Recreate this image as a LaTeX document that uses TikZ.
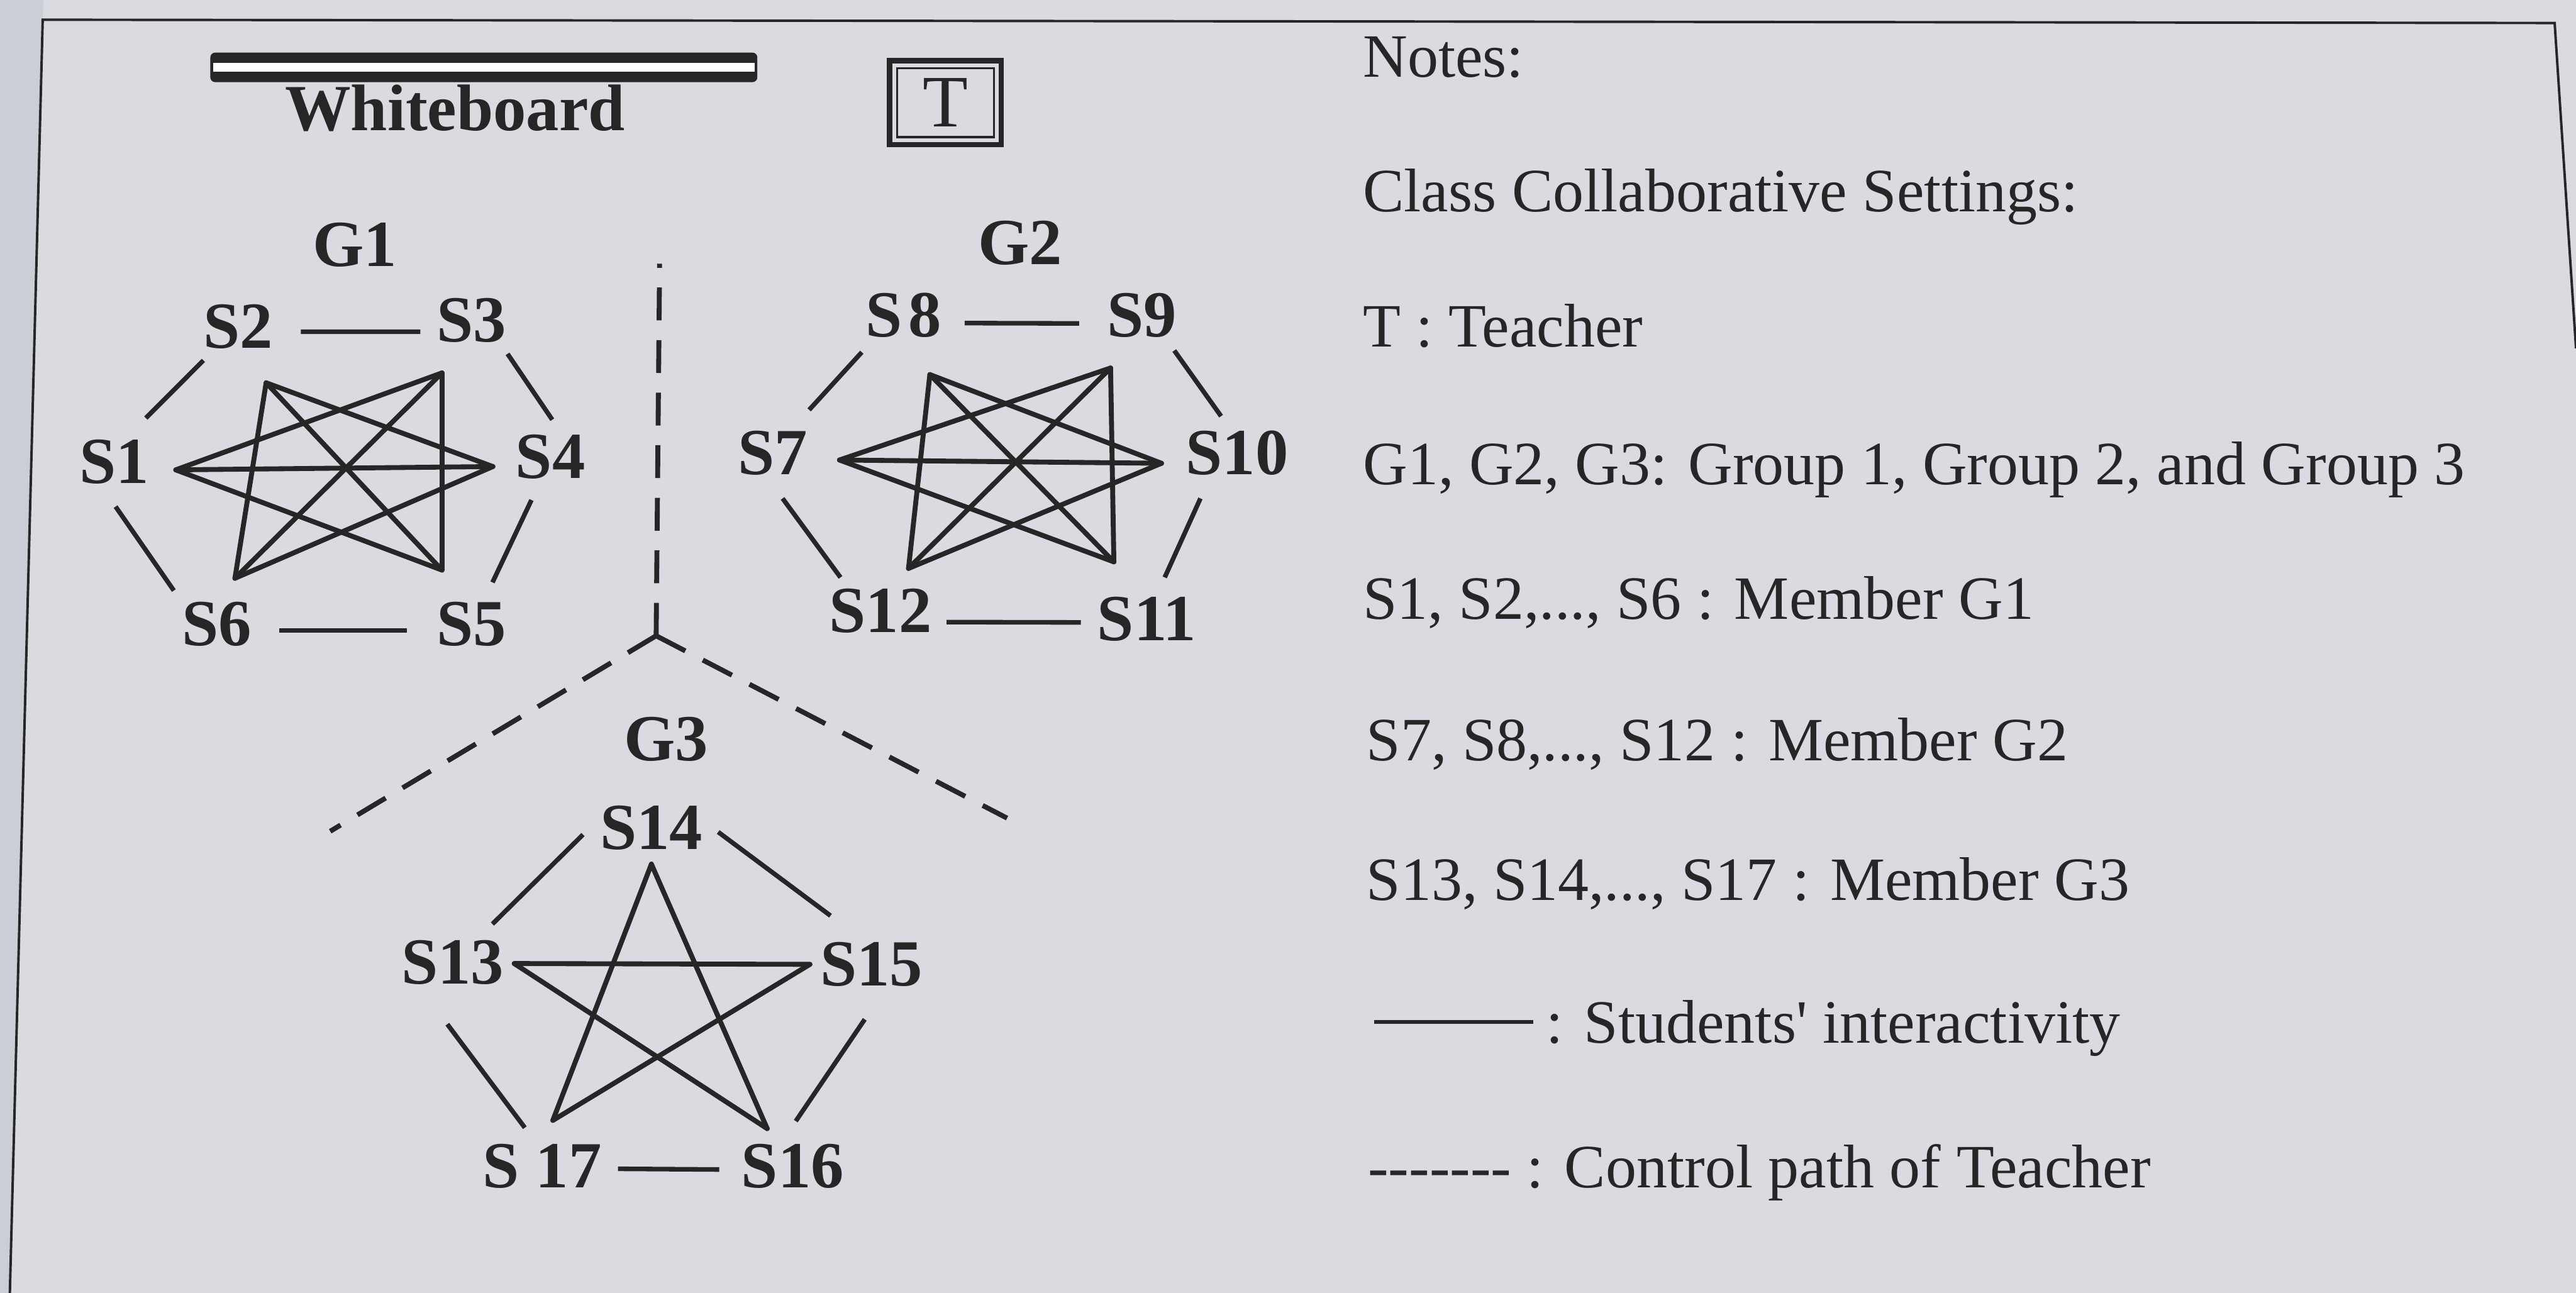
\documentclass[tikz,border=0pt]{standalone}
\usepackage{fontspec}
\setmainfont{Liberation Serif}[Ligatures=TeXOff]
\newcommand\legendfont{\fontsize{10.67}{12}\selectfont}
\newcommand\seatfont{\fontsize{11.4}{13}\selectfont\bfseries}
\newcommand\teacherfont{\fontsize{12.8}{14}\selectfont}
\definecolor{paper}{HTML}{DADBE0}
\definecolor{margin}{HTML}{CBCED6}
\definecolor{ink}{HTML}{262626}
\begin{document}
\begin{tikzpicture}[x=0.1mm,y=-0.1mm,
  seat/.style={font=\seatfont, text=ink, inner sep=0.7mm, outer sep=0pt, anchor=base},
  grp/.style={font=\seatfont, text=ink, inner sep=0pt, anchor=base},
  link/.style={draw=ink, line width=0.28mm},
  cross/.style={draw=ink, line width=0.3mm, line cap=round},
  ctrl/.style={draw=ink, line width=0.3mm, dash pattern=on 2mm off 1.2mm},
  note/.style={font=\legendfont, text=ink, inner sep=0pt, anchor=base west},
  board/.style={fill=ink, minimum width=33.3mm, minimum height=1.8mm, inner sep=0pt, rounded corners=0.3mm},
  tbox/.style={draw=ink, line width=0.32mm, minimum width=6.8mm, minimum height=5.1mm, inner sep=0pt, outer sep=0pt, font=\teacherfont, text=ink}
]
% sheet and its border
\fill[paper] (0,0) rectangle (1568,787);
\useasboundingbox (0,0) rectangle (1568,787);
\fill[margin] (0,0) -- (26.5,0) -- (26,12) -- (6,787) -- (0,787) -- cycle;
\draw[ink, line width=0.15mm] (6,787) -- (26,12) -- (1555,14) -- (1568,212);

% whiteboard and teacher
\node[board] (wb) at (294.5,41) {};
\fill[white] ([xshift=0.25mm,yshift=-0.7mm]wb.north west) rectangle ([xshift=-0.25mm,yshift=0.7mm]wb.south east);
\node[grp] (wblabel) at (277,79.5) {Whiteboard};
\node[tbox] (T) at (575.5,62.5) {T};
\draw[ink, line width=0.13mm] ([xshift=0.45mm,yshift=-0.45mm]T.north west) rectangle ([xshift=-0.45mm,yshift=0.45mm]T.south east);

% group labels
\node[grp] (G1) at (216,162) {G1};
\node[grp] (G2) at (621,161) {G2};
\node[grp] (G3) at (405.5,463) {G3};

% students of group 1
\node[seat] (S1) at (69.5,294) {S1};
\node[seat] (S2) at (145,212) {S2};
\node[seat] (S3) at (287,208) {S3};
\node[seat] (S4) at (335,291) {S4};
\node[seat] (S5) at (287,393) {S5};
\node[seat] (S6) at (132,393) {S6};
% students of group 2
\node[seat] (S7) at (470.5,289) {S7};
\node[seat] (S8) at (550,205) {S\kern0.4mm 8};
\node[seat] (S9) at (695,205) {S9};
\node[seat] (S10) at (753,289) {S10};
\node[seat] (S11) at (698,390) {S11};
\node[seat] (S12) at (536,385) {S12};
% students of group 3
\node[seat] (S13) at (275.5,599) {S13};
\node[seat] (S14) at (396.5,517) {S14};
\node[seat] (S15) at (530.5,600) {S15};
\node[seat] (S16) at (482.5,723) {S16};
\node[seat] (S17) at (330,723) {S 17};

% inner meeting points of each student
\coordinate (c1) at (107,286);  \coordinate (c2) at (162,233);
\coordinate (c3) at (269,227);  \coordinate (c4) at (300,284);
\coordinate (c5) at (269,347);  \coordinate (c6) at (143,352);
\coordinate (c7) at (511,280);  \coordinate (c8) at (566,228);
\coordinate (c9) at (676,224);  \coordinate (c10) at (707,282);
\coordinate (c11) at (678,342); \coordinate (c12) at (553,346);
\coordinate (c14) at (396.5,526); \coordinate (c13) at (313,586.5);
\coordinate (c15) at (493,587);   \coordinate (c17) at (336.5,682);
\coordinate (c16) at (467,687);

% hexagon rims
\draw[link, shorten <=0.85mm] (S1.57) -- (S2.224);
\draw[link, shorten <=1mm, shorten >=0.3mm] (S2.-6) -- (S3.194);
\draw[link, shorten >=0.24mm] (S3.-43) -- (S4.83.5);
\draw[link, shorten <=0.85mm] (S1.-101.6) -- (S6.142.4);
\draw[link, shorten <=0.66mm, shorten >=0.55mm] (S4.-113.7) -- (S5.63);
\draw[link, shorten <=1mm, shorten >=1.1mm] (S6.-8) -- (S5.188);

\draw[link, shorten <=0.7mm, shorten >=1mm] (S8.-9.5) -- (S9.190);
\draw[link, shorten <=0.27mm, shorten >=0.81mm] (S8.221) -- (S7.51);
\draw[link, shorten <=0.12mm, shorten >=0.25mm] (S9.-47.4) -- (S10.112);
\draw[link, shorten <=0.87mm] (S7.-88.9) -- (S12.140.7);
\draw[link, shorten <=0.77mm, shorten >=0.55mm] (S10.-133.5) -- (S11.67.3);
\draw[link, shorten <=0.2mm, shorten >=0.3mm] (S12.-10.4) -- (S11.183);

\draw[link, shorten <=0.49mm, shorten >=0.43mm] (S14.181.7) -- (S13.44.5);
\draw[link, shorten <=0.31mm, shorten >=1.52mm] (S14.-1.8) -- (S15.122.2);
\draw[link, shorten <=2.13mm, shorten >=0.38mm] (S13.-128) -- (S17.112.5);
\draw[link, shorten <=1.58mm, shorten >=0.85mm] (S15.-77.9) -- (S16.98.9);
\draw[link, shorten <=0.3mm, shorten >=0.65mm] (S17.-2.7) -- (S16.183);

% diagonals inside the two hexagons
\foreach \o in {0,6}{
  \foreach \a/\b in {1/3,2/4,3/5,4/6,5/1,6/2,1/4,2/5,3/6}{
    \pgfmathtruncatemacro\p{\a+\o}
    \pgfmathtruncatemacro\q{\b+\o}
    \draw[cross] (c\p) -- (c\q);
  }
}
% pentagram of group 3
\draw[cross] (c14) -- (c17);
\draw[cross] (c14) -- (c16);
\draw[cross] (c13) -- (c15);
\draw[cross] (c13) -- (c16);
\draw[cross] (c15) -- (c17);

% control paths of the teacher
\coordinate (J) at (399.4,387);
\coordinate (Jtop) at (401.5,160.5);
\coordinate (Jleft) at (201,506);
\coordinate (Jright) at (613,498);
\draw[ctrl] (J) -- (Jtop);
\draw[ctrl] (J) -- (Jleft);
\draw[ctrl] (J) -- (Jright);

% notes
\node[note] (n1) at (829,47) {Notes:};
\node[note] (n2) at (829,129) {Class Collaborative Settings:};
\node[note] (n3) at (829,211) {T : Teacher};
\node[note] (n4) at (829,295) {G1, G2, G3: Group 1, Group 2, and Group 3};
\node[note] (n5) at (829,377) {S1, S2,..., S6 : Member G1};
\node[note] (n6) at (831,463) {S7, S8,..., S12 : Member G2};
\node[note] (n7) at (831,548) {S13, S14,..., S17 : Member G3};
\node[note] (n8) at (835.6,635) {\rule[1.18mm]{9.7mm}{0.23mm}\kern0.8mm: Students' interactivity};
\node[note] (n9) at (832,723) {------- : Control path of Teacher};
\end{tikzpicture}
\end{document}
